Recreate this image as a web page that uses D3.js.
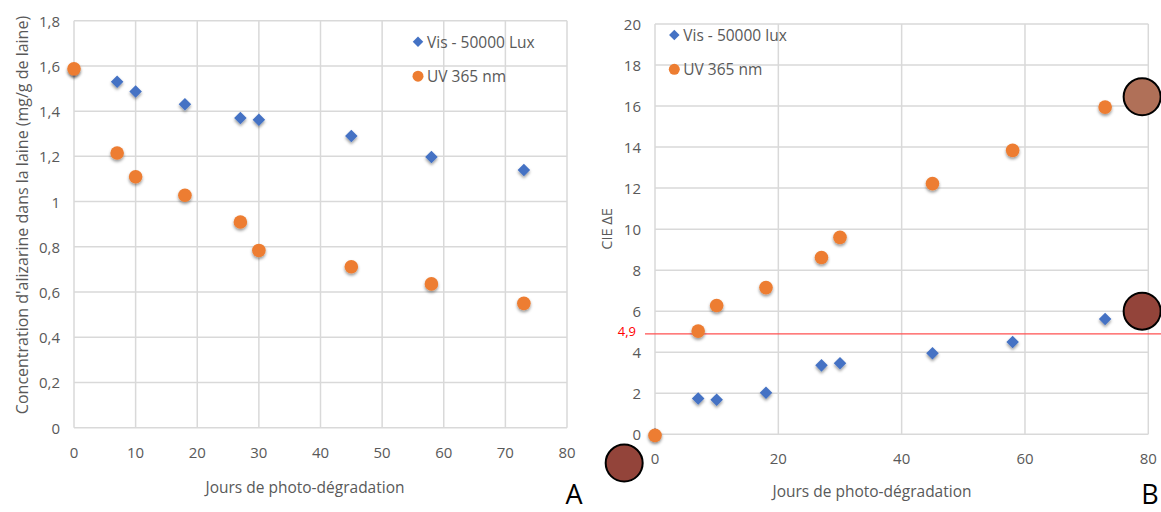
<!DOCTYPE html>
<html><head><meta charset="utf-8">
<script src="https://cdn.jsdelivr.net/npm/d3@7"></script>
<style>
body{margin:0;background:#fff;}
svg text{font-family:"Open Sans",sans-serif;}
</style></head>
<body><svg id="c" width="1161" height="512"></svg>
<script>
// ---- data ----
const days = [0, 7, 10, 18, 27, 30, 45, 58, 73];
const concVis = [1.58, 1.53, 1.487, 1.43, 1.37, 1.362, 1.29, 1.197, 1.14];
const concUV  = [1.587, 1.215, 1.11, 1.028, 0.91, 0.784, 0.712, 0.636, 0.55];
const deVis = [0, 1.75, 1.68, 2.02, 3.36, 3.46, 3.95, 4.5, 5.62];
const deUV  = [-0.05, 5.03, 6.28, 7.15, 8.62, 9.6, 12.22, 13.84, 15.95];
const xTicks = [0, 10, 20, 30, 40, 50, 60, 70, 80];
const xTicksB = [0, 20, 40, 60, 80];
const yTicksA = [0, 0.2, 0.4, 0.6, 0.8, 1, 1.2, 1.4, 1.6, 1.8];
const yTicksB = [0, 2, 4, 6, 8, 10, 12, 14, 16, 18, 20];
const threshold = 4.9;
const swatchX = [79, 79, -5];
const swatchY = [16.45, 6.0, -1.4];
const swatchFill = ["#b07058", "#93443a", "#93443a"];
const legendA = ["Vis - 50000 Lux", "UV 365 nm"];
const legendB = ["Vis - 50000 lux", "UV 365 nm"];

const BLUE = "#4472c4", ORANGE = "#ed7d31", GRID = "#d9d9d9", TXT = "#595959";
const svg = d3.select("#c");
const defs = svg.append("defs");
const f = defs.append("filter").attr("id","sh").attr("x","-50%").attr("y","-50%").attr("width","200%").attr("height","200%");
f.append("feDropShadow").attr("dx",0).attr("dy",2).attr("stdDeviation",1.6).attr("flood-color","#000").attr("flood-opacity",0.4);

const fmt = d => String(d).replace(".", ",");
const diamond = d3.symbol().type(d3.symbolDiamond2).size(100);

function panel(o){
  const g = svg.append("g");
  const x = d3.scaleLinear().domain([0,80]).range(o.xr);
  const y = d3.scaleLinear().domain(o.yd).range(o.yr);
  g.selectAll(".gx").data(o.xt).join("line")
    .attr("x1",d=>x(d)).attr("x2",d=>x(d)).attr("y1",o.yr[0]).attr("y2",o.yr[1])
    .attr("stroke",GRID).attr("stroke-width",1.5);
  g.selectAll(".gy").data(o.yt).join("line")
    .attr("y1",d=>y(d)).attr("y2",d=>y(d)).attr("x1",o.xr[0]).attr("x2",o.xr[1])
    .attr("stroke",GRID).attr("stroke-width",1.5);
  g.selectAll(".tx").data(o.xt).join("text")
    .attr("x",d=>x(d)).attr("y",o.yr[0]+o.xlabOff).attr("text-anchor","middle")
    .attr("dominant-baseline","central").attr("font-size",15).attr("fill",TXT).text(d=>d);
  g.selectAll(".ty").data(o.yt).join("text")
    .attr("x",o.xr[0]-o.ylabOff).attr("y",d=>y(d)).attr("text-anchor","end")
    .attr("dominant-baseline","central").attr("font-size",15).attr("fill",TXT).text(fmt);
  g.append("text").attr("x",o.xtX).attr("y",o.xtY).attr("text-anchor","middle")
    .attr("dominant-baseline","central").attr("font-size",15.5).attr("fill",TXT).text("Jours de photo-dégradation");
  g.append("text").attr("transform",`translate(${o.ytX},${o.ytY}) rotate(-90)`).attr("text-anchor","middle")
    .attr("dominant-baseline","central").attr("font-size",o.ytSize).attr("fill",TXT).text(o.ytitle);
  return {g,x,y};
}

function markers(p, vis, uv){
  p.g.selectAll(".d").data(days).join("path")
    .attr("d",diamond).attr("transform",(d,i)=>`translate(${p.x(d)},${p.y(vis[i])})`)
    .attr("fill",BLUE).attr("filter","url(#sh)");
  p.g.selectAll(".o").data(days).join("circle")
    .attr("cx",d=>p.x(d)).attr("cy",(d,i)=>p.y(uv[i])).attr("r",6.8)
    .attr("fill",ORANGE).attr("filter","url(#sh)");
}

function legend(p, items, lx, ly, gap){
  const g = p.g.append("g");
  g.append("path").attr("d",d3.symbol().type(d3.symbolDiamond2).size(70)).attr("transform",`translate(${lx},${ly})`).attr("fill",BLUE);
  g.append("circle").attr("cx",lx).attr("cy",ly+gap).attr("r",5.5).attr("fill",ORANGE);
  items.forEach((t,i)=>g.append("text").attr("x",lx+9).attr("y",ly+i*gap).attr("dominant-baseline","central")
    .attr("font-size",15.5).attr("fill",TXT).text(t));
}

// Panel A
const A = panel({xr:[74,567], yd:[0,1.8], yr:[427.7,20.7], xt:xTicks, yt:yTicksA, xlabOff:24, ylabOff:14,
  xtX:305, xtY:487, ytX:22, ytY:215, ytSize:16, ytitle:"Concentration d'alizarine dans la laine (mg/g de laine)"});
markers(A, concVis, concUV);
legend(A, legendA, 418, 41.7, 34.5);
svg.append("text").attr("x",574).attr("y",504).attr("text-anchor","middle")
  .attr("font-size",27).attr("fill","#000").text("A");

// Panel B
const B = panel({xr:[655,1148.3], yd:[0,20], yr:[434.3,24], xt:xTicksB, yt:yTicksB, xlabOff:24, ylabOff:14,
  xtX:872, xtY:491, ytX:606, ytY:229, ytSize:14.5, ytitle:"CIE ΔE"});
B.g.append("line").attr("x1",645).attr("x2",1161).attr("y1",B.y(threshold)).attr("y2",B.y(threshold))
  .attr("stroke","#ff5050").attr("stroke-width",1.3);
B.g.append("text").attr("x",636).attr("y",B.y(threshold)-3).attr("text-anchor","end").attr("dominant-baseline","central")
  .attr("font-size",13).attr("fill","#ff0000").text(fmt(threshold));
markers(B, deVis, deUV);
legend(B, legendB, 674.3, 35, 34.3);
B.g.selectAll(".sw").data(swatchX).join("circle")
  .attr("cx",d=>B.x(d)).attr("cy",(d,i)=>B.y(swatchY[i])).attr("r",18.5)
  .attr("fill",(d,i)=>swatchFill[i]).attr("stroke","#000").attr("stroke-width",2);
svg.append("text").attr("x",1150).attr("y",504).attr("text-anchor","middle")
  .attr("font-size",27).attr("fill","#000").text("B");
</script></body></html>
